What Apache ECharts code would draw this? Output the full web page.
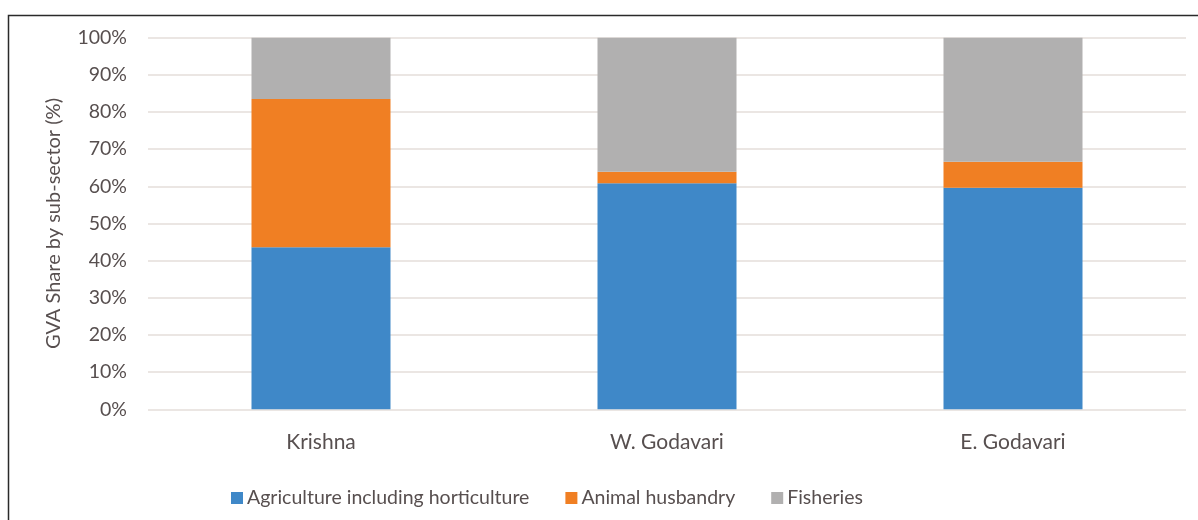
<!DOCTYPE html>
<html>
<head>
<meta charset="utf-8">
<script src="https://cdn.jsdelivr.net/npm/echarts@6/dist/echarts.min.js"></script>
<style>
  html, body { margin: 0; padding: 0; background: #ffffff; }
  #chart { width: 1198px; height: 520px; }
</style>
</head>
<body>
<div id="chart"></div>
<script>
// Districts along the x axis
const districts = ['Krishna', 'W. Godavari', 'E. Godavari'];

// GVA share by sub-sector, percent of each district's total
const agriculture = [43.6, 60.8, 59.6];
const animalHusbandry = [39.9, 3.1, 7.0];
const fisheries = [16.5, 36.1, 33.4];

const seriesNames = ['Agriculture including horticulture', 'Animal husbandry', 'Fisheries'];
const yTicks = [0, 10, 20, 30, 40, 50, 60, 70, 80, 90, 100];

const textColor = '#574f4f';
const fontFamily = 'Lato, "Open Sans", sans-serif';

const chart = echarts.init(document.getElementById('chart'), null, { renderer: 'canvas' });

function barSeries(name, values, color) {
  return {
    name: name,
    type: 'bar',
    stack: 'share',
    barWidth: 139,
    data: values,
    itemStyle: { color: color },
    emphasis: { disabled: true }
  };
}

chart.setOption({
  animation: false,
  backgroundColor: '#ffffff',
  textStyle: { fontFamily: fontFamily },
  grid: { left: 148, right: 12, top: 37.7, bottom: 110.7, containLabel: false },
  legend: {
    left: 226,
    top: 483,
    icon: 'rect',
    itemWidth: 12,
    itemHeight: 12,
    itemGap: 36,
    textStyle: { color: textColor, fontSize: 19.5, fontFamily: fontFamily, padding: [0, 0, 0, -1] },
    data: seriesNames
  },
  xAxis: {
    type: 'category',
    data: districts,
    axisLine: { show: false },
    axisTick: { show: false },
    axisLabel: { color: textColor, fontSize: 21, margin: 22, fontFamily: fontFamily }
  },
  yAxis: {
    type: 'value',
    min: yTicks[0],
    max: yTicks[yTicks.length - 1],
    interval: yTicks[1] - yTicks[0],
    name: 'GVA Share by sub-sector (%)',
    nameLocation: 'middle',
    nameGap: 84,
    nameRotate: 90,
    nameTextStyle: { color: textColor, fontSize: 20, fontFamily: fontFamily },
    axisLine: { show: false },
    axisTick: { show: false },
    axisLabel: {
      color: textColor,
      fontSize: 19.5,
      margin: 21,
      fontFamily: fontFamily,
      formatter: function (v) { return v + '%'; }
    },
    splitLine: { lineStyle: { color: '#e4deda', width: 1.5 } }
  },
  series: [
    barSeries(seriesNames[0], agriculture, '#3f88c8'),
    barSeries(seriesNames[1], animalHusbandry, '#f07f23'),
    barSeries(seriesNames[2], fisheries, '#b1b0b0')
  ],
  graphic: [
    {
      type: 'polyline',
      silent: true,
      shape: { points: [[8.5, 520], [8.5, 15.5], [1198, 15.5]] },
      style: { stroke: '#2a2a2a', lineWidth: 1.5, fill: null }
    }
  ]
});
</script>
</body>
</html>
